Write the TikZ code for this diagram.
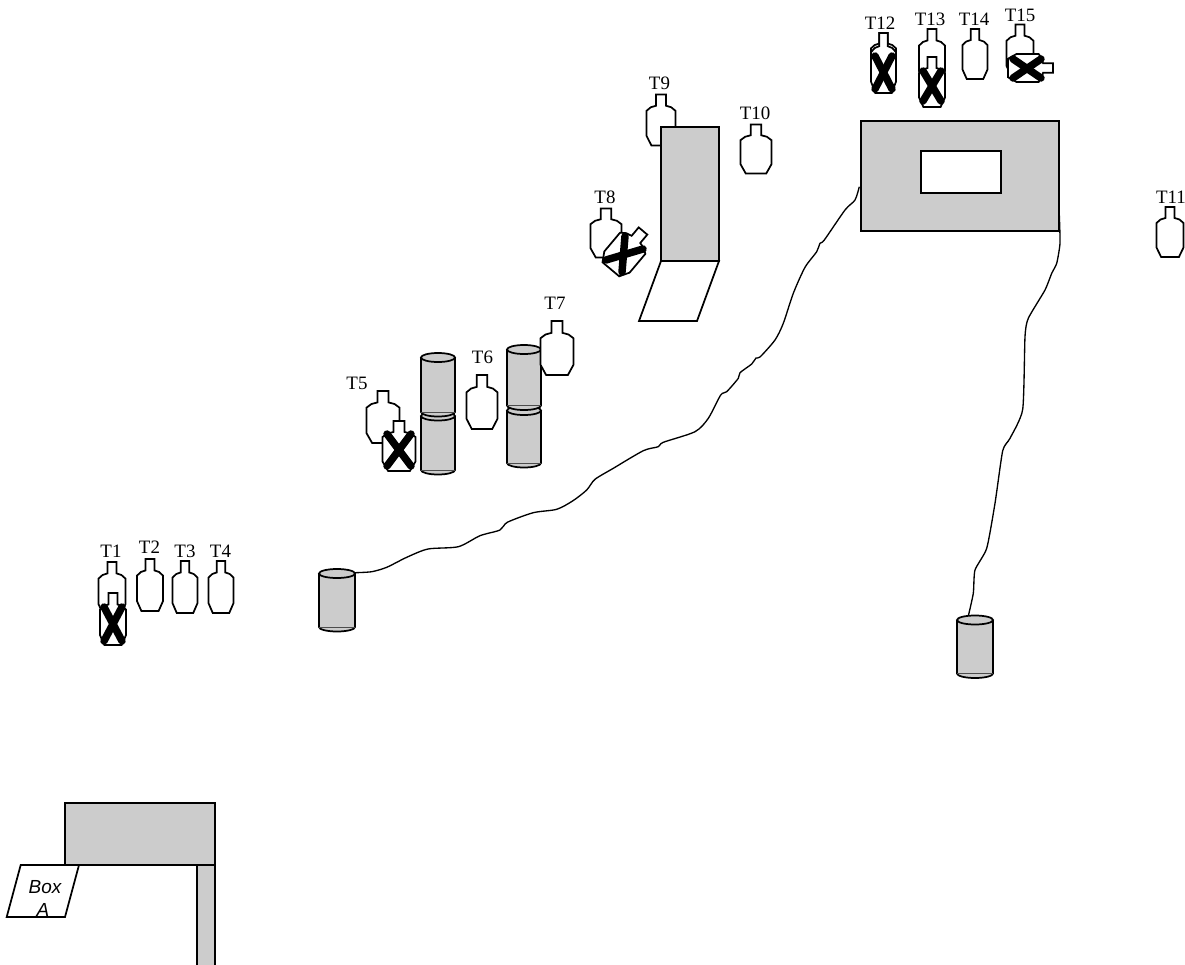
\documentclass[tikz,border=0pt]{standalone}
\usepackage{fontspec}
\setmainfont{Liberation Serif}
\newfontfamily\boxfont{Liberation Sans}
\definecolor{panel}{HTML}{CCCCCC}
\tikzset{
  line/.style={draw=black,line width=1.3pt,line join=miter},
  wire/.style={draw=black,line width=1pt},
  panelbox/.style={line,fill=panel},
  whitebox/.style={line,fill=white},
  crossmark/.style={draw=black,line width=5.6pt,line cap=round},
  tlabel/.style={font=\fontsize{14.2}{16}\selectfont,inner sep=0pt,text=black},
  boxtext/.style={font=\boxfont\itshape\fontsize{14.2}{16}\selectfont,inner sep=0pt,text=black}
}
% centre x, top y, width, height, rotation
\newcommand\tgt[5]{%
  \begin{scope}[shift={(#1,#2)},rotate=#5,xscale=#3,yscale=#4]
    \draw[whitebox] (-.17,0)--(.17,0)--(.17,.22)--(.35,.25)--(.5,.32)--(.5,.81)--(.33,1)--(-.33,1)--(-.5,.81)--(-.5,.32)--(-.35,.25)--(-.17,.22)--cycle;
  \end{scope}}
% left x, right x, centre of top ellipse, centre of bottom arc
\newcommand\cyl[4]{%
  \fill[panel] (#1,#3) -- (#1,#4) arc[start angle=180,end angle=360,x radius={(#2-#1)/2},y radius=-4.5] -- (#2,#3) -- cycle;
  \draw[line] (#1,#3) -- (#1,#4) arc[start angle=180,end angle=360,x radius={(#2-#1)/2},y radius=-4.5] -- (#2,#3);
  \draw[black!70,line width=.3pt] (#1,#4) -- (#2,#4);
  \draw[panelbox] ({(#1+#2)/2},#3) ellipse[x radius={(#2-#1)/2},y radius=4.5];}
\newcommand\cross[8]{\draw[crossmark] (#1,#2)--(#3,#4); \draw[crossmark] (#5,#6)--(#7,#8);}
\begin{document}
\begin{tikzpicture}[x=.75pt,y=-.75pt]
\useasboundingbox (0,0) rectangle (1185,964);
% wires
\coordinate (wireAstart) at (355,572.7);
\coordinate (wireAend) at (859.3,186.7);
\coordinate (wireBstart) at (1059.3,215);
\coordinate (wireBend) at (968.3,616);
\draw[wire] plot[smooth,tension=.45] coordinates {(wireAstart) (371.7,571.7) (386.7,567.3) (406.7,557.3) (428,549) (458.3,546.7) (480,535.7) (500,530) (507.3,522.3) (533.3,512.7) (556.7,509.3) (573,500.7) (586.7,490) (595,479.3) (613.3,468.3) (643.3,450.7) (658.3,446.7) (663.3,442.3) (695,431.7) (708.3,418.3) (720.7,395) (726.7,391.7) (738.3,378.3) (740,372.7) (751.7,364) (756,358) (760,357) (775,340) (783.3,323.3) (793.3,293.3) (805,267.3) (816.7,251.7) (820,243.3) (824.3,240) (845,210) (855,200) (wireAend)};
\draw[wire] plot[smooth,tension=.35] coordinates {(wireBstart) (1060,243.3) (1056.7,263.3) (1051.7,273.3) (1045,290) (1028.3,318.3) (1025,336.7) (1022.7,409.3) (1010,438.3) (1002.7,450.7) (995,503.3) (986.7,548.3) (975,570) (973.3,593.3) (wireBend)};
% buildings
\draw[panelbox] (861,121) rectangle (1059,231);
\draw[whitebox] (921,151) rectangle (1001,193);
\tgt{661}{94.5}{29}{51}{0}
\draw[panelbox] (661,127) rectangle (719,261);
\draw[whitebox] (661,261)--(719,261)--(697,321)--(639,321)--cycle;
\draw[panelbox] (197,865) rectangle (215,975);
\draw[panelbox] (65,803) rectangle (215,865);
\draw[whitebox] (20.7,865)--(79,865)--(65,917)--(6.7,917)--cycle;
\node[boxtext] (boxA1) at (45,887) {Box};
\node[boxtext] (boxA2) at (43,910) {A};
% cylinders
\cyl{319}{355}{573.5}{627}
\cyl{957}{993}{620}{673.5}
\cyl{421}{455}{416}{470}
\cyl{421}{455}{357.5}{412}
\cyl{507}{541}{410.5}{463}
\cyl{507}{541}{349.5}{405.5}
% targets
\tgt{112}{562}{27}{52}{0}
\tgt{113}{593}{26}{52}{0}
\cross{104}{607}{122}{641}{122}{607}{104}{641}
\tgt{150}{559}{26}{52}{0}
\tgt{185}{561}{25}{52}{0}
\tgt{221}{561}{25}{52}{0}
\tgt{383}{391}{33}{52}{0}
\tgt{399}{421}{33}{50}{0}
\cross{387}{434}{411}{466}{411}{434}{387}{466}
\tgt{482}{375}{31}{54}{0}
\tgt{557}{321}{33}{54}{0}
\tgt{606}{208.5}{31}{49}{0}
\tgt{643}{231}{33}{50}{-40}
\cross{606}{260}{643}{249}{625}{236}{622}{272}
\tgt{756}{124.5}{31}{49}{0}
\tgt{1170}{207}{27}{50}{0}
\tgt{883.5}{33}{25}{48}{0}
\tgt{883.5}{33}{25}{60}{0}
\cross{875}{56}{892}{89}{892}{56}{875}{89}
\tgt{932}{29}{26}{52}{0}
\tgt{932}{57}{26}{50}{0}
\cross{923}{71}{941}{101}{941}{71}{923}{101}
\tgt{975}{29}{25}{50}{0}
\tgt{1020}{24.5}{27}{51}{0}
\tgt{1053}{68}{28}{45}{-90}
\cross{1013}{59}{1041}{78}{1041}{59}{1013}{78}
% labels
\node[tlabel] (T1) at (111,551) {T1};
\node[tlabel] (T2) at (149.5,547) {T2};
\node[tlabel] (T3) at (185,551) {T3};
\node[tlabel] (T4) at (220.5,551) {T4};
\node[tlabel] (T5) at (357,383) {T5};
\node[tlabel] (T6) at (482.5,357.5) {T6};
\node[tlabel] (T7) at (555,303) {T7};
\node[tlabel] (T8) at (605,197) {T8};
\node[tlabel] (T9) at (659.5,83) {T9};
\node[tlabel] (T10) at (755,113) {T10};
\node[tlabel] (T11) at (1171,197) {T11};
\node[tlabel] (T12) at (880,23) {T12};
\node[tlabel] (T13) at (930,19) {T13};
\node[tlabel] (T14) at (974,19) {T14};
\node[tlabel] (T15) at (1020,15) {T15};
\end{tikzpicture}
\end{document}
